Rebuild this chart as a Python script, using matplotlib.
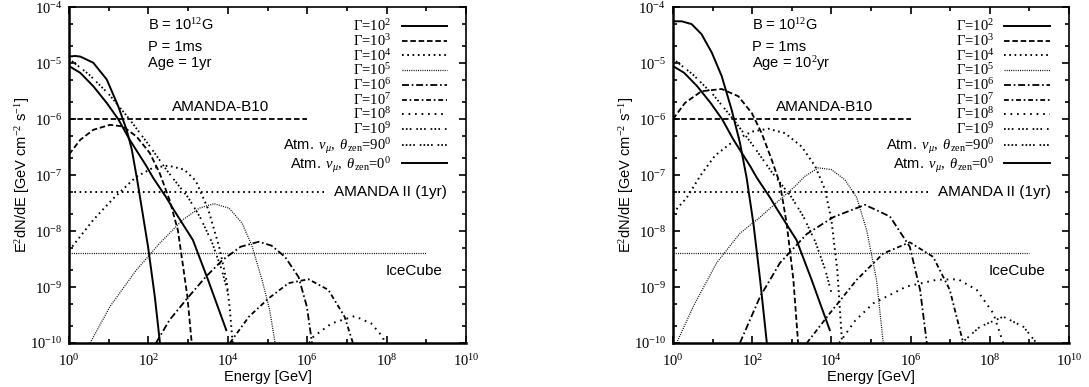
import matplotlib
matplotlib.use('Agg')
import matplotlib.pyplot as plt
from matplotlib.ticker import FixedLocator, FuncFormatter, NullFormatter
import numpy as np

plt.rcParams['font.family'] = ['Liberation Sans', 'DejaVu Sans']
plt.rcParams['mathtext.fontset'] = 'custom'
plt.rcParams['mathtext.rm'] = 'Liberation Serif'
plt.rcParams['mathtext.it'] = 'Liberation Serif:italic'
plt.rcParams['mathtext.sf'] = 'Liberation Sans'
plt.rcParams['lines.scale_dashes'] = False

# log10(E/GeV) and log10(E^2 dN/dE)
# age = 1 yr
g2_1yr_x = [0, 0.15, 0.28, 0.61, 0.95, 1.24, 1.45, 1.58, 1.72, 1.99, 2.16, 2.29]
g2_1yr_y = [-4.88, -4.87, -4.88, -4.99, -5.29, -5.77, -6.19, -6.54, -7.1, -8.28, -9.17, -10.0]
g3_1yr_x = [0, 0.28, 0.61, 1.03, 1.36, 1.70, 2.03, 2.28, 2.53, 2.74, 2.86, 2.98, 3.09]
g3_1yr_y = [-6.63, -6.37, -6.19, -6.10, -6.13, -6.31, -6.6, -6.96, -7.44, -7.98, -8.57, -9.17, -10]
g4_1yr_x = [0, 0.61, 1.11, 1.69, 2.11, 2.5, 2.9, 3.19, 3.5, 3.78, 3.97, 4.05, 4.12]
g4_1yr_y = [-8.35, -7.8, -7.42, -7.03, -6.87, -6.83, -6.9, -7.1, -7.6, -8.28, -8.9, -9.4, -10]
g5_1yr_x = [0.53, 1.03, 1.69, 2.28, 2.86, 3.28, 3.65, 4.03, 4.36, 4.6, 4.86, 5.05, 5.19]
g5_1yr_y = [-10, -9.35, -8.7, -8.22, -7.8, -7.59, -7.51, -7.59, -7.86, -8.25, -8.87, -9.4, -10]
g6_1yr_x = [2.19, 2.53, 2.98, 3.44, 3.86, 4.32, 4.78, 5.1, 5.44, 5.78, 5.99, 6.12]
g6_1yr_y = [-10, -9.59, -9.2, -8.82, -8.52, -8.28, -8.19, -8.26, -8.46, -8.82, -9.35, -10]
g7_1yr_x = [4.05, 4.53, 5.03, 5.53, 6.03, 6.53, 6.94, 7.15]
g7_1yr_y = [-10, -9.53, -9.2, -8.93, -8.86, -9.05, -9.53, -10]
g8_1yr_x = [6.05, 6.15, 6.61, 7.19, 7.61, 7.9, 7.95]
g8_1yr_y = [-10, -9.89, -9.65, -9.52, -9.65, -9.89, -10]

# age = 100 yr
g2_100yr_x = [0, 0.22, 0.47, 0.72, 0.98, 1.23, 1.48, 1.69, 1.86, 2.03, 2.2, 2.37]
g2_100yr_y = [-4.25, -4.25, -4.30, -4.48, -4.81, -5.23, -5.83, -6.42, -7.05, -7.86, -8.87, -10]
g3_100yr_x = [0, 0.3, 0.72, 1.23, 1.65, 1.99, 2.24, 2.49, 2.7, 2.87, 3.04, 3.16]
g3_100yr_y = [-6.0, -5.71, -5.5, -5.46, -5.59, -5.89, -6.25, -6.72, -7.15, -7.86, -8.87, -10]
g4_100yr_x = [0, 0.35, 0.7, 1.06, 1.57, 2.0, 2.41, 2.83, 3.25, 3.59, 3.84, 4.0, 4.15, 4.27]
g4_100yr_y = [-7.68, -7.4, -7.0, -6.65, -6.37, -6.22, -6.17, -6.25, -6.49, -6.84, -7.26, -7.8, -8.7, -10]
g5_100yr_x = [0.09, 0.51, 1.1, 1.69, 2.2, 2.6, 3.08, 3.33, 3.67, 4.0, 4.34, 4.64, 4.89, 5.14, 5.31]
g5_100yr_y = [-10, -9.35, -8.57, -8.04, -7.75, -7.5, -7.2, -7.02, -6.87, -6.9, -7.08, -7.4, -7.98, -8.87, -10]
g6_100yr_x = [1.69, 2.2, 2.7, 3.38, 4.05, 4.85, 5.48, 5.98, 6.24, 6.41]
g6_100yr_y = [-10, -9.17, -8.57, -8.05, -7.75, -7.53, -7.74, -8.28, -9.05, -10]
g7_100yr_x = [3.38, 3.96, 4.64, 5.31, 5.98, 6.57, 6.99, 7.33]
g7_100yr_y = [-10, -9.47, -8.87, -8.4, -8.2, -8.46, -9.05, -10]
g8_100yr_x = [4.2, 4.6, 5.06, 5.9, 6.66, 7.2, 7.67, 8.09, 8.34]
g8_100yr_y = [-10, -9.6, -9.29, -8.99, -8.87, -8.86, -9.05, -9.47, -10]
g9_100yr_x = [7.29, 7.75, 8.34, 8.85, 9.18]
g9_100yr_y = [-10, -9.71, -9.53, -9.71, -10]

# atmospheric nu_mu (same in both panels)
atm0_x = [0, 0.28, 0.61, 0.95, 1.24, 1.53, 1.95, 2.12, 2.45, 2.62, 3.12, 3.5, 3.96]
atm0_y = [-5.05, -5.17, -5.41, -5.71, -6.0, -6.37, -6.84, -7.05, -7.4, -7.6, -8.16, -8.87, -9.77]
atm90_x = [0, 0.5, 1.0, 1.5, 2.0, 2.5, 3.0, 3.3, 3.6, 3.85, 4.0]
atm90_y = [-4.92, -5.2, -5.55, -5.98, -6.45, -6.95, -7.4, -7.75, -8.2, -8.7, -9.1]

# sensitivities: level, end energy
amanda_b10 = 1e-6
amanda_b10_end = 1e6
amanda2 = 5e-8
amanda2_end = 10**6.45
icecube = 4e-9
icecube_end = 1e9

ages = ['1yr', '10$^{2}$yr']
xticks = [10.0**k for k in range(0, 11, 2)]
xminor = [10.0**k for k in range(1, 10, 2)]
yticks = [10.0**k for k in range(-10, -3)]
yminor = [m * 10.0**k for k in range(-10, -4) for m in (2, 5)]

styles = {
    2: dict(ls='-', lw=1.4),
    3: dict(ls=(0, (4, 2)), lw=1.3),
    4: dict(ls=(0, (1.2, 2.6)), lw=1.4),
    5: dict(ls=(0, (0.7, 0.9)), lw=0.9),
    6: dict(ls=(0, (5, 2, 1.2, 2)), lw=1.3),
    7: dict(ls=(0, (3.5, 2, 1.2, 2)), lw=1.3),
    8: dict(ls=(0, (1.2, 3.5)), lw=1.4),
    9: dict(ls=(0, (1.2, 1.6, 1.2, 1.6, 1.2, 3.5)), lw=1.3),
}
atm90_style = dict(ls=(0, (1.2, 1.5, 1.2, 1.5, 1.2, 1.5, 1.2, 3.5)), lw=1.3)

fig = plt.figure(figsize=(10.89, 3.87), dpi=100)
ax1 = fig.add_axes([0.0634, 0.1137, 0.3646, 0.8674])
ax2 = fig.add_axes([0.618, 0.1137, 0.3636, 0.8674])

panels = [
    (ax1, {2: (g2_1yr_x, g2_1yr_y), 3: (g3_1yr_x, g3_1yr_y), 4: (g4_1yr_x, g4_1yr_y),
           5: (g5_1yr_x, g5_1yr_y), 6: (g6_1yr_x, g6_1yr_y), 7: (g7_1yr_x, g7_1yr_y),
           8: (g8_1yr_x, g8_1yr_y), 9: ([], [])}, ages[0]),
    (ax2, {2: (g2_100yr_x, g2_100yr_y), 3: (g3_100yr_x, g3_100yr_y), 4: (g4_100yr_x, g4_100yr_y),
           5: (g5_100yr_x, g5_100yr_y), 6: (g6_100yr_x, g6_100yr_y), 7: (g7_100yr_x, g7_100yr_y),
           8: (g8_100yr_x, g8_100yr_y), 9: (g9_100yr_x, g9_100yr_y)}, ages[1]),
]

for ax, curves, age in panels:
    ax.set_xscale('log')
    ax.set_yscale('log')
    ax.set_xlim(1, 1e10)
    ax.set_ylim(1e-10, 1e-4)

    for g in range(2, 10):
        lx, ly = curves[g]
        ax.plot(10**np.array(lx, dtype=float), 10**np.array(ly, dtype=float), color='k',
                label=r'$\mathit{\Gamma}$=10$^{%d}$' % g, **styles[g])
    ax.plot(10**np.array(atm90_x), 10**np.array(atm90_y), color='k',
            label=r'$\mathsf{Atm.}\ \nu_{\mu},\ \theta_{\mathrm{zen}}$=90$^0$', **atm90_style)
    ax.plot(10**np.array(atm0_x), 10**np.array(atm0_y), color='k', ls='-', lw=1.4,
            label=r'$\mathsf{Atm.}\ \nu_{\mu},\ \theta_{\mathrm{zen}}$=0$^0$')

    ax.plot([1, amanda_b10_end], [amanda_b10, amanda_b10], color='k', ls=(0, (4, 2)), lw=1.3)
    ax.plot([1, amanda2_end], [amanda2, amanda2], color='k', ls=(0, (1.2, 2.6)), lw=1.4)
    ax.plot([1, icecube_end], [icecube, icecube], color='k', ls=(0, (0.7, 0.9)), lw=0.9)

    ax.text(10**2.6, 1.25e-6, 'AMANDA-B10', fontsize=11, ha='left', va='bottom')
    ax.text(10**6.68, amanda2, 'AMANDA II (1yr)', fontsize=11, ha='left', va='center')
    ax.text(10**7.97, 1.95e-9, 'IceCube', fontsize=11, ha='left', va='center')

    ax.text(0.199, 0.946, 'B = 10$^{12}$G', transform=ax.transAxes, fontsize=10.5, va='center')
    ax.text(0.199, 0.882, 'P = 1ms', transform=ax.transAxes, fontsize=10.5, va='center')
    ax.text(0.199, 0.833, 'Age = ' + age, transform=ax.transAxes, fontsize=10.5, va='center')

    ax.xaxis.set_major_locator(FixedLocator(xticks))
    ax.xaxis.set_minor_locator(FixedLocator(xminor))
    ax.yaxis.set_major_locator(FixedLocator(yticks))
    ax.yaxis.set_minor_locator(FixedLocator(yminor))
    fmt = FuncFormatter(lambda v, p: r'$10^{%d}$' % int(round(np.log10(v))))
    ax.xaxis.set_major_formatter(fmt)
    ax.yaxis.set_major_formatter(fmt)
    ax.xaxis.set_minor_formatter(NullFormatter())
    ax.yaxis.set_minor_formatter(NullFormatter())
    ax.tick_params(which='both', direction='in', top=True, right=True, labelsize=10.5, width=1.2)
    ax.tick_params(which='major', length=5)
    ax.tick_params(which='minor', length=3)
    ax.tick_params(axis='x', pad=7.5)
    ax.tick_params(axis='y', pad=5)
    for s in ['left', 'bottom']:
        ax.spines[s].set_linewidth(1.8)
    for s in ['top', 'right']:
        ax.spines[s].set_linewidth(1.2)

    ax.set_xlabel('Energy [GeV]', fontsize=10.5, labelpad=0.5)
    ax.set_ylabel('E$^2$dN/dE [GeV cm$^{-2}$ s$^{-1}$]', fontsize=10.5, labelpad=-1.5)

    leg = ax.legend(loc='upper right', bbox_to_anchor=(0.966, 0.985), frameon=False,
                    markerfirst=False, handlelength=3.1, handletextpad=0.7,
                    labelspacing=-0.08, borderaxespad=0,
                    prop={'family': 'Liberation Serif', 'size': 10.5})

fig.savefig('out.png', dpi=100)
